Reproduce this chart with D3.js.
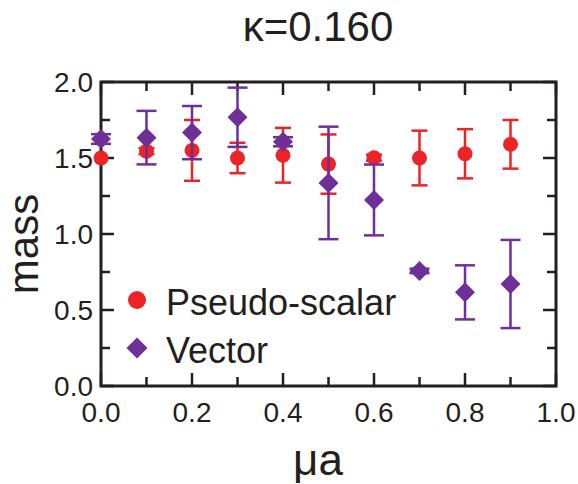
<!DOCTYPE html>
<html>
<head>
<meta charset="utf-8">
<script src="https://cdn.jsdelivr.net/npm/d3@7"></script>
<style>
  body { margin: 0; background: #fff; }
  text { font-family: "Liberation Sans", Arial, sans-serif; fill: #231f20; }
</style>
</head>
<body>
<div id="chart"></div>
<script>
// values
const mu = [0.0, 0.1, 0.2, 0.3, 0.4, 0.5, 0.6, 0.7, 0.8, 0.9]
const psMass = [1.50, 1.545, 1.55, 1.50, 1.518, 1.46, 1.502, 1.50, 1.528, 1.59]
const psErr = [0.0, 0.02, 0.20, 0.10, 0.18, 0.195, 0.02, 0.18, 0.162, 0.16]
const vecMass = [1.625, 1.634, 1.667, 1.768, 1.607, 1.336, 1.224, 0.757, 0.616, 0.671]
const vecErr = [0.032, 0.176, 0.175, 0.195, 0.03, 0.37, 0.233, 0.015, 0.178, 0.29]
const xTicks = [0.0, 0.2, 0.4, 0.6, 0.8, 1.0]
const yTicks = [0.0, 0.5, 1.0, 1.5, 2.0]

const red = "#ec2327"
const purple = "#6f2f99"
const ink = "#231f20"

const width = 578, height = 484
const margin = {top: 82, right: 22, bottom: 98, left: 101}

const svg = d3.select("#chart").append("svg")
    .attr("width", width)
    .attr("height", height)

const x = d3.scaleLinear().domain([0, 1]).range([margin.left, width - margin.right])
const y = d3.scaleLinear().domain([0, 2]).range([height - margin.bottom, margin.top])

// ticks pointing inward on all four sides
const majorX = d3.range(0, 1.0001, 0.2)
const minorX = d3.range(0.1, 1, 0.2)
const majorY = d3.range(0, 2.0001, 0.5)
const minorY = d3.range(0.25, 2, 0.5)

const axisGroup = svg.append("g").attr("stroke", ink).attr("stroke-width", 2.5)
const tickLines = (vals, len, horiz) => {
    vals.forEach(v => {
        if (horiz) {
            axisGroup.append("line").attr("x1", x(v)).attr("x2", x(v))
                .attr("y1", y(0)).attr("y2", y(0) - len)
            axisGroup.append("line").attr("x1", x(v)).attr("x2", x(v))
                .attr("y1", y(2)).attr("y2", y(2) + len)
        } else {
            axisGroup.append("line").attr("y1", y(v)).attr("y2", y(v))
                .attr("x1", x(0)).attr("x2", x(0) + len)
            axisGroup.append("line").attr("y1", y(v)).attr("y2", y(v))
                .attr("x1", x(1)).attr("x2", x(1) - len)
        }
    })
}
tickLines(majorX, 13, true)
tickLines(minorX, 9, true)
tickLines(majorY, 13, false)
tickLines(minorY, 9, false)

svg.append("rect")
    .attr("x", x(0)).attr("y", y(2))
    .attr("width", x(1) - x(0)).attr("height", y(0) - y(2))
    .attr("fill", "none").attr("stroke", ink).attr("stroke-width", 3)

// tick labels
svg.append("g").selectAll("text").data(xTicks).enter().append("text")
    .attr("x", d => x(d)).attr("y", y(0) + 36)
    .attr("text-anchor", "middle").style("font-size", "28px")
    .text(d => d.toFixed(1))
svg.append("g").selectAll("text").data(yTicks).enter().append("text")
    .attr("x", x(0) - 8).attr("y", d => y(d) + 10)
    .attr("text-anchor", "end").style("font-size", "28px")
    .text(d => d.toFixed(1))

// titles
svg.append("text").attr("x", 318).attr("y", 41)
    .attr("text-anchor", "middle").style("font-size", "42px")
    .text("κ=0.160")
svg.append("text").attr("x", 318).attr("y", 475)
    .attr("text-anchor", "middle").style("font-size", "44px")
    .text("μa")
svg.append("text").attr("transform", "translate(38,244) rotate(-90)")
    .attr("text-anchor", "middle").style("font-size", "42px")
    .text("mass")

const errorBars = (vals, errs, color, cap) => {
    const g = svg.append("g").attr("stroke", color).attr("stroke-width", 2.5)
    mu.forEach((m, i) => {
        if (errs[i] <= 0) return
        const cx = x(m), top = y(vals[i] + errs[i]), bot = y(vals[i] - errs[i])
        g.append("line").attr("x1", cx).attr("x2", cx).attr("y1", top).attr("y2", bot)
        g.append("line").attr("x1", cx - cap).attr("x2", cx + cap).attr("y1", top).attr("y2", top)
        g.append("line").attr("x1", cx - cap).attr("x2", cx + cap).attr("y1", bot).attr("y2", bot)
    })
}

const diamondPath = r => "M0," + (-r) + "L" + r + ",0L0," + r + "L" + (-r) + ",0Z"

errorBars(psMass, psErr, red, 8)
svg.append("g").selectAll("circle").data(mu).enter().append("circle")
    .attr("cx", d => x(d)).attr("cy", (d, i) => y(psMass[i]))
    .attr("r", 7.5).attr("fill", red)

errorBars(vecMass, vecErr, purple, 10)
svg.append("g").selectAll("path").data(mu).enter().append("path")
    .attr("transform", (d, i) => "translate(" + x(d) + "," + y(vecMass[i]) + ")")
    .attr("d", diamondPath(10)).attr("fill", purple)

// legend
const legend = svg.append("g")
legend.append("circle").attr("cx", 137).attr("cy", 300).attr("r", 9).attr("fill", red)
legend.append("text").attr("x", 166).attr("y", 315).style("font-size", "36px").text("Pseudo-scalar")
legend.append("path").attr("transform", "translate(137,348)").attr("d", diamondPath(10.5)).attr("fill", purple)
legend.append("text").attr("x", 166).attr("y", 363).style("font-size", "36px").text("Vector")
</script>
</body>
</html>
